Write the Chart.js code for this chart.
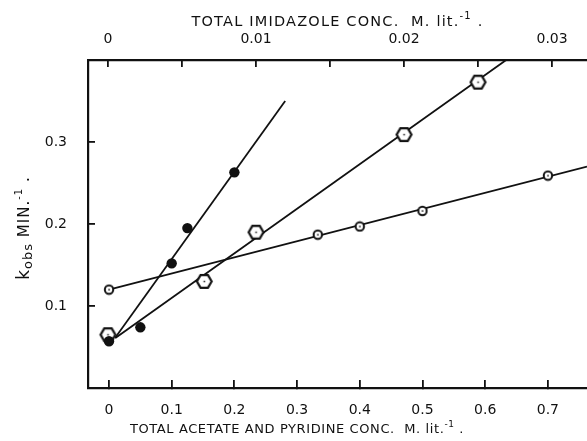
<!DOCTYPE html>
<html>
<head>
<meta charset="utf-8">
<script src="https://cdn.jsdelivr.net/npm/chart.js@4.4.0/dist/chart.umd.min.js"></script>
<style>
    html, body { margin: 0; padding: 0; background: #fff; }
</style>
</head>
<body>
<canvas id="grafico" width="587" height="441"></canvas>
<script>
// Pontos medidos (eixo de baixo: acetato e piridina; eixo de cima: imidazol)
const acetatoX = [0, 0.05, 0.1, 0.125, 0.2];
const acetatoY = [0.057, 0.074, 0.152, 0.195, 0.263];
const piridinaX = [0, 0.333, 0.4, 0.5, 0.7];
const piridinaY = [0.120, 0.187, 0.197, 0.216, 0.259];
const imidazolX = [0, 0.0065, 0.01, 0.02, 0.025];
const imidazolY = [0.065, 0.130, 0.190, 0.309, 0.373];

// Retas ajustadas (duas pontas cada)
const retaAcetatoX = [0.0096, 0.281];
const retaAcetatoY = [0.061, 0.350];
const retaImidazolX = [0.0005, 0.0269];
const retaImidazolY = [0.061, 0.400];
const retaPiridinaX = [0, 0.7624];
const retaPiridinaY = [0.120, 0.270];

// Marcas dos eixos
const ticksBaixo = [0, 0.1, 0.2, 0.3, 0.4, 0.5, 0.6, 0.7];
const rotulosBaixo = ['0', '0.1', '0.2', '0.3', '0.4', '0.5', '0.6', '0.7'];
const ticksCima = [0, 0.005, 0.01, 0.015, 0.02, 0.025, 0.03];
const rotulosCima = ['0', '', '0.01', '', '0.02', '', '0.03'];
const ticksY = [0.1, 0.2, 0.3];
const rotulosY = ['0.1', '0.2', '0.3'];

const COR = '#111';
const FONTE = 'DejaVu Sans';

function pontos(xs, ys) {
    return xs.map((x, i) => ({ x: x, y: ys[i] }));
}

// Círculo aberto com pontinho no meio
function marcadorCirculo() {
    const c = document.createElement('canvas');
    c.width = 12; c.height = 12;
    const g = c.getContext('2d');
    g.beginPath();
    g.arc(6, 6, 4.2, 0, Math.PI * 2);
    g.fillStyle = '#fff';
    g.fill();
    g.lineWidth = 2;
    g.strokeStyle = COR;
    g.stroke();
    g.fillStyle = COR;
    g.fillRect(5.3, 5.3, 1.5, 1.5);
    return c;
}

// Hexágono aberto com pontinho no meio
function marcadorHexagono() {
    const c = document.createElement('canvas');
    c.width = 19; c.height = 19;
    const g = c.getContext('2d');
    g.beginPath();
    for (let i = 0; i < 6; i++) {
        const a = Math.PI / 3 * i;
        const px = 9.5 + 7.4 * Math.cos(a);
        const py = 9.5 + 7.4 * Math.sin(a);
        if (i === 0) g.moveTo(px, py); else g.lineTo(px, py);
    }
    g.closePath();
    g.fillStyle = '#fff';
    g.fill();
    g.lineWidth = 2.2;
    g.strokeStyle = COR;
    g.stroke();
    g.fillStyle = COR;
    g.fillRect(8.8, 8.8, 1.5, 1.5);
    return c;
}

// Escreve texto com expoente / índice, centrado em (x, y)
function escreverPartes(ctx, partes, x, y) {
    let total = 0;
    partes.forEach(p => {
        ctx.font = p.tam + 'px "' + FONTE + '"';
        p.w = ctx.measureText(p.t).width;
        total += p.w;
    });
    let cx = x - total / 2;
    partes.forEach(p => {
        ctx.font = p.tam + 'px "' + FONTE + '"';
        ctx.fillText(p.t, cx, y + (p.dy || 0));
        cx += p.w;
    });
}

const titulosEixos = {
    id: 'titulosEixos',
    afterDraw(chart) {
        const ctx = chart.ctx;
        const area = chart.chartArea;
        ctx.save();
        ctx.fillStyle = COR;
        ctx.textAlign = 'left';
        ctx.textBaseline = 'middle';

        ctx.letterSpacing = '1.2px';
        escreverPartes(ctx, [
            { t: 'TOTAL IMIDAZOLE CONC.  M. lit.', tam: 14.5 },
            { t: '-1', tam: 10, dy: -6 },
            { t: ' .', tam: 14.5 }
        ], (area.left + area.right) / 2, 22);

        ctx.letterSpacing = '0.6px';
        escreverPartes(ctx, [
            { t: 'TOTAL ACETATE AND PYRIDINE CONC.  M. lit.', tam: 13 },
            { t: '-1', tam: 9, dy: -5 },
            { t: ' .', tam: 13 }
        ], 297, 430);

        ctx.letterSpacing = '1px';
        ctx.translate(25, 228);
        ctx.rotate(-Math.PI / 2);
        escreverPartes(ctx, [
            { t: 'k', tam: 17 },
            { t: 'obs', tam: 13, dy: 4 },
            { t: ' MIN.', tam: 15 },
            { t: '-1', tam: 10, dy: -6 },
            { t: ' .', tam: 15 }
        ], 0, 0);
        ctx.restore();
    }
};

function eixoX(pos, min, max, ticks, rotulos, altura, pad, marca) {
    return {
        type: 'linear',
        position: pos,
        min: min,
        max: max,
        afterBuildTicks: s => { s.ticks = ticks.map(v => ({ value: v })); },
        afterFit: s => {
            s.height = altura;
            s.paddingLeft = 0;
            s.paddingRight = 0;
        },
        ticks: {
            color: COR,
            font: { family: FONTE, size: 14 },
            padding: pad,
            maxRotation: 0,
            autoSkip: false,
            callback: (v, i) => rotulos[i]
        },
        grid: { drawOnChartArea: false, tickLength: marca, color: COR, lineWidth: 1.8 },
        border: { color: COR, width: 2.2 }
    };
}

document.addEventListener('DOMContentLoaded', function() {
    const ctx = document.getElementById('grafico').getContext('2d');
    new Chart(ctx, {
        type: 'scatter',
        data: {
            datasets: [
                {
                    data: pontos(acetatoX, acetatoY),
                    pointStyle: 'circle', pointRadius: 5.2,
                    backgroundColor: COR, borderColor: COR, borderWidth: 0,
                    order: 1
                },
                {
                    data: pontos(piridinaX, piridinaY),
                    pointStyle: marcadorCirculo(),
                    order: 1
                },
                {
                    data: pontos(imidazolX, imidazolY),
                    xAxisID: 'x2',
                    pointStyle: marcadorHexagono(),
                    order: 1
                },
                {
                    data: pontos(retaAcetatoX, retaAcetatoY),
                    showLine: true, pointRadius: 0, borderColor: COR, borderWidth: 1.8,
                    order: 2
                },
                {
                    data: pontos(retaImidazolX, retaImidazolY),
                    xAxisID: 'x2',
                    showLine: true, pointRadius: 0, borderColor: COR, borderWidth: 1.8,
                    order: 2
                },
                {
                    data: pontos(retaPiridinaX, retaPiridinaY),
                    showLine: true, pointRadius: 0, borderColor: COR, borderWidth: 1.8,
                    order: 2
                }
            ]
        },
        options: {
            responsive: false,
            animation: false,
            devicePixelRatio: 1,
            layout: { padding: 0, autoPadding: false },
            plugins: {
                legend: { display: false },
                tooltip: { enabled: false }
            },
            scales: {
                x: eixoX('bottom', -0.0335, 0.7624, ticksBaixo, rotulosBaixo, 53, 22, -8),
                x2: eixoX('top', -0.00135, 0.03236, ticksCima, rotulosCima, 60, 19, -7),
                y: {
                    type: 'linear',
                    position: 'left',
                    min: 0,
                    max: 0.4,
                    afterBuildTicks: s => { s.ticks = ticksY.map(v => ({ value: v })); },
                    afterFit: s => {
                        s.width = 88;
                        s.paddingTop = 0;
                        s.paddingBottom = 0;
                    },
                    ticks: {
                        color: COR,
                        font: { family: FONTE, size: 14 },
                        padding: 28,
                        callback: (v, i) => rotulosY[i]
                    },
                    grid: { drawOnChartArea: false, tickLength: -7, color: COR, lineWidth: 1.8 },
                    border: { color: COR, width: 2.2 }
                }
            }
        },
        plugins: [titulosEixos]
    });
});
</script>
</body>
</html>
